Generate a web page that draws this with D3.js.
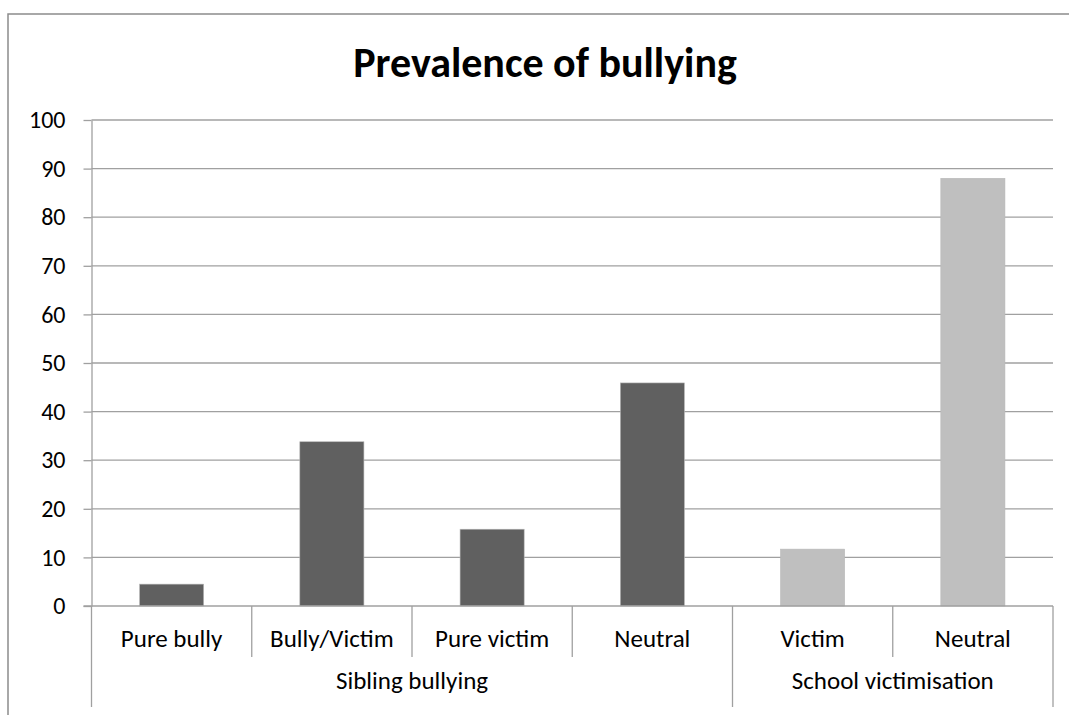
<!DOCTYPE html>
<html>
<head>
<meta charset="utf-8">
<script src="https://cdn.jsdelivr.net/npm/d3@7"></script>
<style>
  body { margin: 0; background: #fff; }
  text { font-family: Carlito, Calibri, Lato, sans-serif; fill: #000; }
</style>
</head>
<body>
<div id="chart"></div>
<script>
// data
var categories = ["Pure bully", "Bully/Victim", "Pure victim", "Neutral", "Victim", "Neutral"];
var groups = ["Sibling bullying", "Sibling bullying", "Sibling bullying", "Sibling bullying", "School victimisation", "School victimisation"];
var values = [4.5, 33.8, 15.8, 45.9, 11.7, 88.0];
var yTicks = [0, 10, 20, 30, 40, 50, 60, 70, 80, 90, 100];
var groupColors = { "Sibling bullying": "#606060", "School victimisation": "#bfbfbf" };

var W = 1069, H = 715;
var plotLeft = 91.5, plotRight = 1053, plotTop = 120, plotBottom = 606;

var svg = d3.select("#chart").append("svg")
    .attr("width", W)
    .attr("height", H);

// outer chart frame
svg.append("rect")
    .attr("x", 8).attr("y", 14)
    .attr("width", W + 20).attr("height", H + 20)
    .attr("fill", "none")
    .attr("stroke", "#8c8c8c")
    .attr("stroke-width", 1.5);

svg.append("text")
    .attr("x", 545).attr("y", 77)
    .attr("text-anchor", "middle")
    .style("font-size", "42px")
    .style("font-weight", "bold")
    .text("Prevalence of bullying");

var keys = categories.map(function(c, i) { return i + "|" + c; });

var x = d3.scaleBand()
    .domain(keys)
    .range([plotLeft, plotRight])
    .paddingInner(0.6)
    .paddingOuter(0.3);

var y = d3.scaleLinear()
    .domain([0, 100])
    .range([plotBottom, plotTop]);

// gridlines
svg.append("g").selectAll("line")
    .data(yTicks.slice(1))
    .enter().append("line")
    .attr("x1", plotLeft).attr("x2", plotRight)
    .attr("y1", function(d) { return y(d); })
    .attr("y2", function(d) { return y(d); })
    .attr("stroke", "#a0a0a0")
    .attr("stroke-width", 1.3);

// y axis
var yAxis = svg.append("g")
    .attr("transform", "translate(" + plotLeft + ",0)")
    .call(d3.axisLeft(y).tickValues(yTicks).tickSizeInner(8).tickSizeOuter(0).tickPadding(18));
yAxis.select(".domain").attr("stroke", "#a0a0a0").attr("stroke-width", 1.3);
yAxis.selectAll(".tick line").attr("stroke", "#a0a0a0").attr("stroke-width", 1.3);
yAxis.selectAll("text")
    .style("font-size", "24px")
    .style("font-family", "Carlito, Calibri, Lato, sans-serif")
    .attr("fill", "#000");

// bars
svg.append("g").selectAll("rect")
    .data(values)
    .enter().append("rect")
    .attr("x", function(d, i) { return x(keys[i]); })
    .attr("width", x.bandwidth())
    .attr("y", function(d) { return y(d); })
    .attr("height", function(d) { return y(0) - y(d); })
    .attr("fill", function(d, i) { return groupColors[groups[i]]; })
    .attr("stroke", "#b8b8b8")
    .attr("stroke-width", 0.6);

// x axis line
svg.append("line")
    .attr("x1", plotLeft - 8).attr("x2", plotRight)
    .attr("y1", y(0)).attr("y2", y(0))
    .attr("stroke", "#a0a0a0")
    .attr("stroke-width", 1.3);

var gap = (x.step() - x.bandwidth()) / 2;
function edge(i) { return i < keys.length ? x(keys[i]) - gap : x(keys[i - 1]) + x.bandwidth() + gap; }

// category separators, long ones at group boundaries
var bounds = d3.range(keys.length + 1);
svg.append("g").selectAll("line")
    .data(bounds)
    .enter().append("line")
    .attr("x1", function(i) { return edge(i); })
    .attr("x2", function(i) { return edge(i); })
    .attr("y1", y(0))
    .attr("y2", function(i) {
        var isGroup = i === 0 || i === keys.length || groups[i] !== groups[i - 1];
        return isGroup ? 707 : 657;
    })
    .attr("stroke", "#a0a0a0")
    .attr("stroke-width", 1.3);

// category labels
svg.append("g").selectAll("text")
    .data(categories)
    .enter().append("text")
    .attr("x", function(d, i) { return x(keys[i]) + x.bandwidth() / 2; })
    .attr("y", 647)
    .attr("text-anchor", "middle")
    .style("font-size", "25px")
    .text(function(d) { return d; });

// group labels
var groupNames = Array.from(new Set(groups));
svg.append("g").selectAll("text")
    .data(groupNames)
    .enter().append("text")
    .attr("x", function(g) {
        var first = groups.indexOf(g), last = groups.lastIndexOf(g);
        return (edge(first) + edge(last + 1)) / 2;
    })
    .attr("y", 689)
    .attr("text-anchor", "middle")
    .style("font-size", "25px")
    .text(function(d) { return d; });
</script>
</body>
</html>
